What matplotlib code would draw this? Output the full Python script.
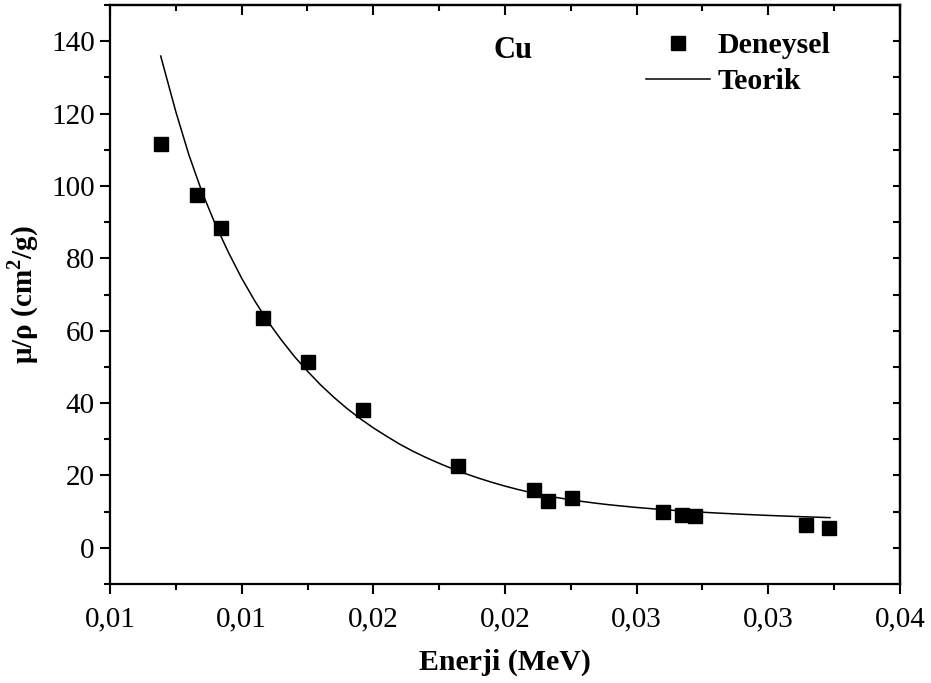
import matplotlib
matplotlib.use("Agg")
import matplotlib.pyplot as plt
from matplotlib.ticker import FixedLocator, MultipleLocator
from matplotlib.lines import Line2D

# Experimental data (Deneysel)
energy_exp = [0.00693, 0.00832, 0.00923, 0.01082, 0.01253, 0.01462, 0.01823,
              0.02111, 0.02164, 0.02253, 0.02601, 0.02673, 0.02722, 0.03143, 0.03232]
mu_exp = [111.6, 97.4, 88.5, 63.6, 51.3, 38.2, 22.5,
          16.0, 13.0, 13.9, 10.0, 9.1, 8.9, 6.3, 5.6]

# Theoretical curve (Teorik)
energy_th = [0.006925, 0.0075, 0.008, 0.0085, 0.009, 0.0095, 0.010, 0.0105,
             0.011, 0.0115, 0.012, 0.0125, 0.013, 0.0135, 0.014, 0.0145,
             0.015, 0.0155, 0.016, 0.0165, 0.017, 0.0175, 0.018, 0.0185,
             0.019, 0.0195, 0.020, 0.0205, 0.021, 0.0215, 0.022, 0.0225,
             0.023, 0.0235, 0.024, 0.025, 0.026, 0.027, 0.028, 0.029,
             0.030, 0.031, 0.032, 0.03234]
mu_th = [135.9, 120.5, 108.5, 98.2, 89.4, 81.6, 74.5, 68.2,
         62.5, 57.5, 52.9, 48.8, 45.0, 41.6, 38.5, 35.7,
         33.15, 30.85, 28.65, 26.7, 24.95, 23.35, 21.85, 20.5,
         19.25, 18.1, 17.05, 16.1, 15.25, 14.5, 13.85, 13.27,
         12.75, 12.28, 11.86, 11.15, 10.55, 10.05, 9.63, 9.27,
         8.95, 8.67, 8.42, 8.34]

xticks = [0.005, 0.010, 0.015, 0.020, 0.025, 0.030, 0.035]
xtick_labels = ['0,01', '0,01', '0,02', '0,02', '0,03', '0,03', '0,04']
yticks = [0, 20, 40, 60, 80, 100, 120, 140]
ytick_labels = ['0', '20', '40', '60', '80', '100', '120', '140']

plt.rcParams['font.family'] = ['Liberation Serif', 'DejaVu Serif']
plt.rcParams['mathtext.fontset'] = 'custom'
plt.rcParams['mathtext.rm'] = 'Liberation Serif:bold'
plt.rcParams['mathtext.bf'] = 'Liberation Serif:bold'

fig = plt.figure(figsize=(9.31, 6.83), dpi=100)
ax = fig.add_axes([110/931, 1-584/683, 790/931, 579/683])

ax.plot(energy_th, mu_th, color='black', lw=1.1, label='Teorik', zorder=2,
        solid_joinstyle='round')
ax.plot(energy_exp, mu_exp, linestyle='none', marker='s', ms=9.5, color='black',
        label='Deneysel', zorder=3)

ax.set_xlim(0.005, 0.035)
ax.set_ylim(-10, 150)

ax.xaxis.set_major_locator(FixedLocator(xticks))
ax.set_xticklabels(xtick_labels)
ax.xaxis.set_minor_locator(MultipleLocator(0.0025))
ax.yaxis.set_major_locator(FixedLocator(yticks))
ax.set_yticklabels(ytick_labels)
ax.yaxis.set_minor_locator(MultipleLocator(10))

for s in ax.spines.values():
    s.set_linewidth(1.6)

ax.tick_params(axis='both', which='major', direction='out', length=7, width=1.5,
               labelsize=21, pad=4)
ax.tick_params(axis='x', which='major', pad=9)
ax.tick_params(axis='both', which='minor', direction='out', length=4.5, width=1.5)

# top and right inward ticks
axt = ax.secondary_xaxis('top')
axt.xaxis.set_major_locator(FixedLocator(xticks))
axt.xaxis.set_minor_locator(MultipleLocator(0.0025))
axt.tick_params(which='major', direction='in', length=7, width=1.5, labeltop=False)
axt.tick_params(which='minor', direction='in', length=4.5, width=1.5)
axt.spines['top'].set_linewidth(1.6)
axr = ax.secondary_yaxis('right')
axr.yaxis.set_major_locator(FixedLocator(yticks))
axr.yaxis.set_minor_locator(MultipleLocator(10))
axr.tick_params(which='major', direction='in', length=5, width=1.5, labelright=False)
axr.tick_params(which='minor', direction='in', length=5, width=1.5)
axr.spines['right'].set_linewidth(1.6)

ax.set_xlabel('Enerji (MeV)', fontsize=21.5, fontweight='bold', labelpad=12)
ax.set_ylabel(r'μ/ρ (cm$^{\mathbf{2}}$/g)', fontsize=21, fontweight='bold', labelpad=7)

ax.text(513/931, 1-51/683, 'Cu', transform=fig.transFigure, fontsize=22,
        fontweight='bold', ha='center', va='center')

handles = [Line2D([], [], linestyle='none', marker='s', ms=9.5, color='black'),
           Line2D([], [], color='black', lw=1.1)]
leg = ax.legend(handles, ['Deneysel', 'Teorik'], loc='upper left',
                bbox_to_anchor=(646/931, 1-32/683), bbox_transform=fig.transFigure,
                frameon=False, handlelength=2.15, handletextpad=0.23, labelspacing=0.3,
                borderpad=0, borderaxespad=0, prop={'size': 21.5, 'weight': 'bold'})

fig.savefig('out.png', dpi=100)
